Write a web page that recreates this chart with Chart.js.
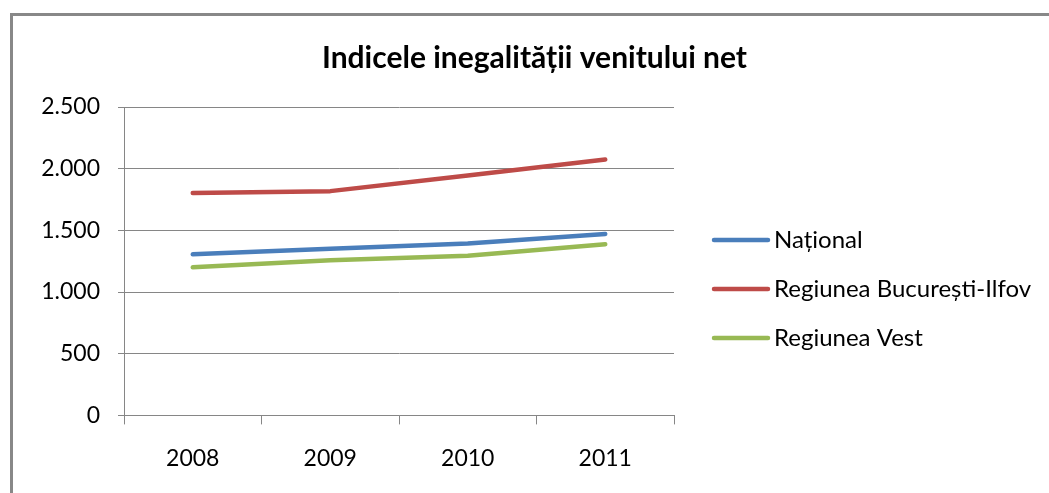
<!DOCTYPE html>
<html>
<head>
<meta charset="utf-8">
<script src="https://cdn.jsdelivr.net/npm/chart.js@4.4.0/dist/chart.umd.min.js"></script>
<style>
  html, body { margin: 0; padding: 0; background: #fff; }
  #frame {
    position: absolute; left: 10px; top: 13px; width: 1100px; height: 520px;
    border-top: 3px solid #888; border-left: 3px solid #888;
  }
  #wrap { position: absolute; left: 0; top: 0; width: 1049px; height: 493px; }
</style>
</head>
<body>
<div id="frame"></div>
<div id="wrap"><canvas id="chart"></canvas></div>
<script>
var years = ["2008", "2009", "2010", "2011"];
var national = [1306, 1350, 1393, 1471];
var bucuresti = [1803, 1818, 1945, 2074];
var vest = [1200, 1257, 1295, 1387];
var seriesNames = ["Național", "Regiunea București-Ilfov", "Regiunea Vest"];
var colors = ["#4A7EBB", "#BE4B48", "#98B954"];

function fmt(v) {
    return String(v).replace(/\B(?=(\d{3})+(?!\d))/g, ".");
}

function line(label, data, color) {
    return {
        label: label,
        data: data,
        borderColor: color,
        backgroundColor: color,
        borderWidth: 4.5,
        borderCapStyle: 'round',
        borderJoinStyle: 'round',
        pointRadius: 0,
        tension: 0
    };
}

// legend drawn by hand on the right, Excel style
var sideLegend = {
    id: 'sideLegend',
    afterDraw: function(chart) {
        var ctx = chart.ctx;
        var x0 = chart.chartArea.right + 40;
        var y0 = 240, step = 49, len = 54;
        ctx.save();
        ctx.font = "24px Lato, 'Open Sans', sans-serif";
        ctx.textBaseline = 'middle';
        ctx.fillStyle = '#000';
        chart.data.datasets.forEach(function(ds, i) {
            var y = y0 + i * step;
            ctx.strokeStyle = ds.borderColor;
            ctx.lineWidth = 4.5;
            ctx.lineCap = 'round';
            ctx.beginPath();
            ctx.moveTo(x0, y);
            ctx.lineTo(x0 + len, y);
            ctx.stroke();
            ctx.fillText(ds.label, x0 + len + 6, y);
        });
        ctx.restore();
    }
};

Chart.defaults.font.family = "Lato, 'Open Sans', sans-serif";
Chart.defaults.color = "#000";

new Chart(document.getElementById('chart'), {
    type: 'line',
    data: {
        labels: years,
        datasets: [
            line(seriesNames[0], national, colors[0]),
            line(seriesNames[1], bucuresti, colors[1]),
            line(seriesNames[2], vest, colors[2])
        ]
    },
    options: {
        responsive: true,
        maintainAspectRatio: false,
        animation: false,
        layout: { padding: { left: 30, right: 10, top: 40, bottom: 1 } },
        plugins: {
            title: {
                display: true,
                text: "Indicele inegalității venitului net",
                font: { size: 30, weight: 'bold' },
                color: '#000',
                padding: { top: 0, bottom: 31 }
            },
            legend: { display: false },
            tooltip: { enabled: false }
        },
        scales: {
            x: {
                offset: true,
                grid: {
                    offset: true,
                    drawOnChartArea: false,
                    drawTicks: true,
                    tickLength: 9,
                    color: '#868686'
                },
                border: { color: '#868686' },
                ticks: { font: { size: 23 }, padding: 20 }
            },
            y: {
                min: 0,
                max: 2500,
                afterFit: function(scale) { scale.width = 94; },
                grid: { color: '#868686', tickLength: 6 },
                border: { color: '#868686' },
                ticks: {
                    stepSize: 500,
                    font: { size: 23 },
                    padding: 18,
                    callback: function(v) { return fmt(v); }
                }
            },
            // empty right-hand box that keeps room for the legend
            side: {
                type: 'linear',
                position: 'right',
                afterFit: function(scale) { scale.width = 365; },
                grid: { display: false },
                border: { display: false },
                ticks: { display: false }
            }
        }
    },
    plugins: [sideLegend]
});
</script>
</body>
</html>
